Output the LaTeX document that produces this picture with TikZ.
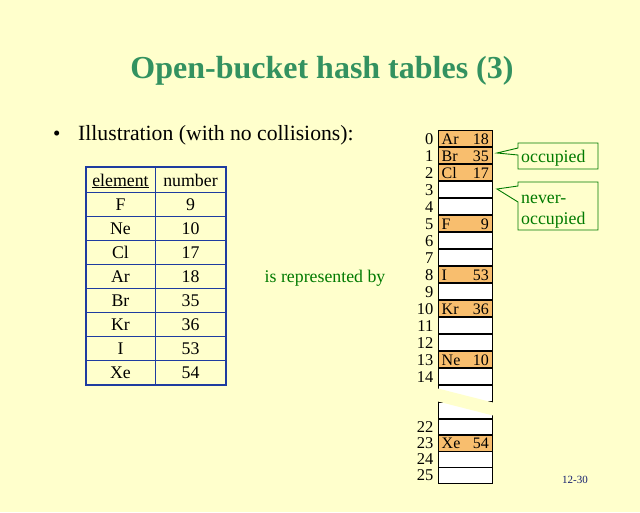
\documentclass[tikz,border=0pt]{standalone}
\usepackage{fontspec}
\setmainfont{Liberation Serif}
\definecolor{bg}{RGB}{255,255,204}
\definecolor{titlegreen}{RGB}{51,146,96}
\definecolor{callgreen}{RGB}{0,122,0}
\definecolor{tblue}{RGB}{30,60,160}
\definecolor{cellorange}{RGB}{248,190,110}
\definecolor{navy}{RGB}{20,30,110}
\tikzset{
  txt/.style={inner sep=0pt, font=\fontsize{16}{16}\selectfont},
  tbltxt/.style={inner sep=0pt, anchor=base, font=\fontsize{17.8}{17.8}\selectfont},
  idx/.style={inner sep=0pt, anchor=base east, font=\fontsize{16.5}{16.5}\selectfont},
  cellbox/.style={draw=black, line width=0.9pt},
  callout/.style={draw=callgreen, fill=bg, line width=0.9pt},
  calltxt/.style={inner sep=0pt, anchor=base west, text=callgreen, font=\fontsize{17.8}{17.8}\selectfont},
}
\begin{document}
\begin{tikzpicture}[x=1pt,y=-1pt]
\useasboundingbox (0,0) rectangle (640,512);
\fill[bg] (0,0) rectangle (640,512);
% title
\node[inner sep=0pt, anchor=base, text=titlegreen, font=\fontsize{32}{32}\selectfont\bfseries] (title) at (322,78) {Open-bucket hash tables (3)};
% bullet
\node[inner sep=0pt, anchor=base west, font=\fontsize{21}{21}\selectfont] (bul) at (53,140) {\textbullet};
\node[inner sep=0pt, anchor=base west, font=\fontsize{21.7}{21.7}\selectfont] (bullet) at (78,140) {Illustration (with no collisions):};
% table
\foreach \y in {192,216,240,264,288,312,336,360} \draw[tblue, line width=0.9pt] (86,\y) -- (226,\y);
\draw[tblue, line width=0.9pt] (155,167) -- (155,385);
\draw[tblue, line width=2.2pt] (86,167) rectangle (226,385);
\node[tbltxt] (hE) at (120.5,186) {\underline{element}};
\node[tbltxt] (hN) at (190.5,186) {number};
\foreach \e/\n [count=\i from 0] in {F/9,Ne/10,Cl/17,Ar/18,Br/35,Kr/36,I/53,Xe/54} {
  \node[tbltxt] (te\i) at (120.5,{210+24*\i}) {\e};
  \node[tbltxt] (tn\i) at (190.5,{210+24*\i}) {\n};
}
% represented by
\node[inner sep=0pt, anchor=base, text=callgreen, font=\fontsize{17.8}{17.8}\selectfont] (rep) at (325,282) {is represented by};
% array cells rows 0..15
\foreach \r in {0,...,15} {
  \pgfmathsetmacro{\t}{130+17*\r}
  \draw[cellbox, fill=white] (438,\t) rectangle (492,\t+17);
}
\draw[cellbox, fill=white] (438,402) rectangle (492,419);
\foreach \r in {22,...,25} {
  \pgfmathsetmacro{\t}{419+16*(\r-22)}
  \draw[cellbox, fill=white] (438,\t) rectangle (492,\t+16);
}
% occupied cells
\foreach \r/\e/\n in {0/Ar/18,1/Br/35,2/Cl/17,5/F/9,8/I/53,10/Kr/36,13/Ne/10} {
  \pgfmathsetmacro{\t}{130+17*\r}
  \draw[cellbox, fill=cellorange] (438,\t) rectangle (492,\t+17);
  \node[txt, anchor=base west] (ce\r) at (441.5,\t+14) {\e};
  \node[txt, anchor=base east] (cn\r) at (489,\t+14) {\n};
}
\draw[cellbox, fill=cellorange] (438,435) rectangle (492,451);
\node[txt, anchor=base west] (ce23) at (441.5,448.5) {Xe};
\node[txt, anchor=base east] (cn23) at (489,448.5) {54};
% thicker separators
\foreach \r in {1,...,15} \draw[line width=1.8pt] (438,{130+17*\r}) -- (492,{130+17*\r});
\draw[line width=1.8pt] (438,402) -- (492,402);
\draw[line width=1.8pt] (438,419) -- (492,419);
\draw[line width=1.4pt] (438,435) -- (492,435);
% break band
\fill[bg] (436,388) -- (495,403) -- (495,416) -- (436,401) -- cycle;
% indices
\foreach \r in {0,...,14} \node[idx] (l\r) at (433.5,{130+17*\r+14}) {\r};
\foreach \r in {22,...,25} \node[idx] (l\r) at (433.5,{419+16*(\r-22)+13.5}) {\r};
% callouts
\draw[callout] (518,143) -- (598,143) -- (598,169) -- (518,169) -- (518,155) -- (497,153) -- (518,148) -- cycle;
\node[calltxt] (occ) at (521,162) {occupied};
\draw[callout] (518,182) -- (598,182) -- (598,230) -- (518,230) -- (518,202) -- (497,189) -- (518,186) -- cycle;
\node[calltxt] (nev1) at (521,203) {never-};
\node[calltxt] (nev2) at (521,224) {occupied};
% page number
\node[inner sep=0pt, anchor=base, text=navy, font=\fontsize{11}{11}\selectfont] (pg) at (575,483) {12-30};
\end{tikzpicture}
\end{document}
